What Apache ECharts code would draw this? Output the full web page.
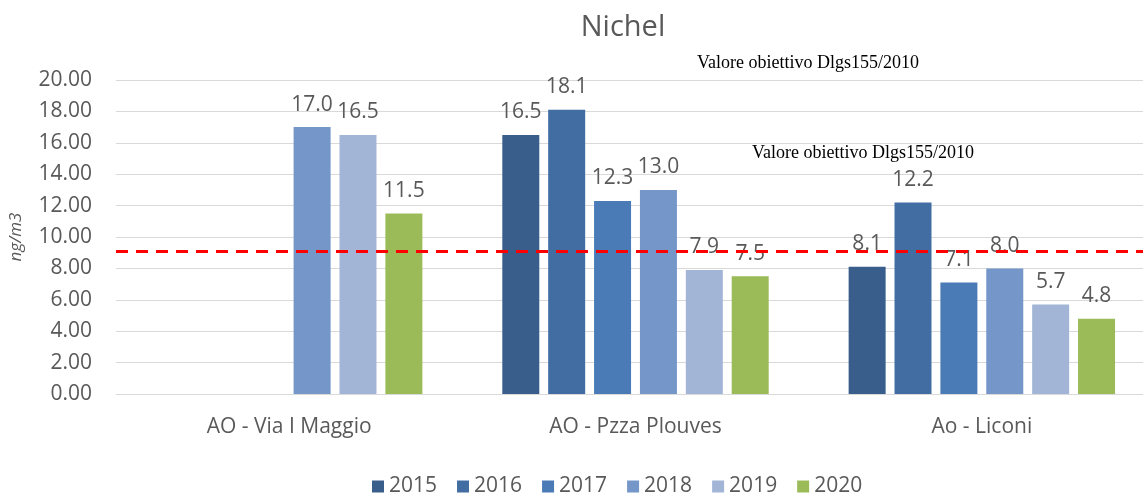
<!DOCTYPE html>
<html>
<head>
<meta charset="utf-8">
<script src="https://cdn.jsdelivr.net/npm/echarts@6/dist/echarts.min.js"></script>
<style>html,body{margin:0;padding:0;background:#fff}#c{width:1143px;height:493px}</style>
</head>
<body>
<div id="c"></div>
<script>
const categories = ["AO - Via I Maggio", "AO - Pzza Plouves", "Ao - Liconi"];
const years = ["2015", "2016", "2017", "2018", "2019", "2020"];
const v2015 = [null, 16.5, 8.1];
const v2016 = [null, 18.1, 12.2];
const v2017 = [null, 12.3, 7.1];
const v2018 = [17.0, 13.0, 8.0];
const v2019 = [16.5, 7.9, 5.7];
const v2020 = [11.5, 7.5, 4.8];
const targetValue = 9.1;
const targetText = "Valore obiettivo Dlgs155/2010";

const values = [v2015, v2016, v2017, v2018, v2019, v2020];
const colors = ["#3A5E8C", "#416DA3", "#4A7BB7", "#7596C8", "#A3B5D7", "#9BBB59"];
const font = "'Open Sans', 'Noto Sans', sans-serif";

const chart = echarts.init(document.getElementById('c'));
const series = years.map((y, i) => ({
  name: y,
  type: 'bar',
  data: values[i],
  barWidth: 37,
  barGap: '24%',
  itemStyle: { color: colors[i] },
  label: {
    show: true, position: 'top', distance: 12,
    color: '#595959', fontSize: 21, fontFamily: font,
    formatter: p => p.value == null ? '' : Number(p.value).toFixed(1)
  }
}));
series[0].markLine = {
  symbol: 'none', silent: true,
  label: { show: false },
  lineStyle: { color: '#FF0000', type: [12, 8], width: 3 },
  data: [{ yAxis: targetValue }]
};
chart.setOption({
  animation: false,
  title: {
    text: 'Nichel', left: 618, top: 8, textAlign: 'center',
    textStyle: { fontFamily: font, fontSize: 29, fontWeight: 'normal', color: '#595959' }
  },
  grid: { left: 116, width: 1039, top: 80, height: 314, outerBoundsMode: 'none', containLabel: false },
  legend: {
    top: 471, left: 367, itemWidth: 12, itemHeight: 12, itemGap: 20,
    icon: 'rect',
    textStyle: { fontFamily: font, fontSize: 21, color: '#595959' },
    data: years
  },
  xAxis: {
    type: 'category', data: categories,
    axisLine: { lineStyle: { color: '#D9D9D9' } },
    axisTick: { show: false },
    axisLabel: { color: '#595959', fontSize: 21, fontFamily: font, margin: 23 }
  },
  yAxis: {
    type: 'value', min: 0, max: 20, interval: 2,
    name: 'ng/m3', nameLocation: 'middle', nameGap: 91, nameRotate: 90,
    nameTextStyle: { fontStyle: 'italic', fontSize: 17, color: '#595959', fontFamily: font },
    axisLabel: { formatter: v => v.toFixed(2), color: '#595959', fontSize: 21, fontFamily: font, margin: 24 },
    splitLine: { lineStyle: { color: '#D9D9D9', width: 1 } },
    axisLine: { show: false }, axisTick: { show: false }
  },
  graphic: [
    { type: 'text', left: 697, top: 54, style: { text: targetText, font: "18px 'Liberation Serif', serif", fill: '#000' } },
    { type: 'text', left: 752, top: 144, style: { text: targetText, font: "18px 'Liberation Serif', serif", fill: '#000' } }
  ],
  series: series
});
</script>
</body>
</html>
